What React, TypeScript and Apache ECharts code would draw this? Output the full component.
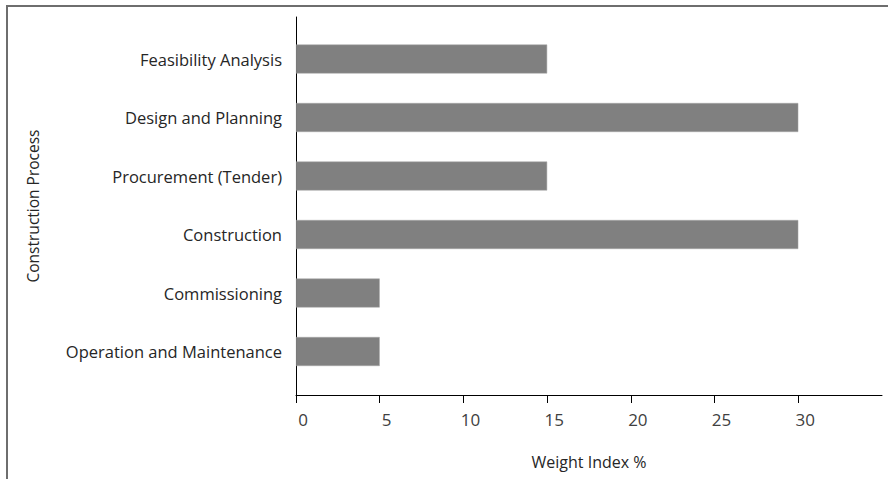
import React, { useEffect, useRef } from "react";
import * as echarts from "echarts";

const categories = [
  "Feasibility Analysis",
  "Design and Planning",
  "Procurement (Tender)",
  "Construction",
  "Commissioning",
  "Operation and Maintenance",
];
const weights = [15, 30, 15, 30, 5, 5];
const xTicks = { min: 0, max: 35, interval: 5 };
const xName = "Weight Index %";
const yName = "Construction Process";

export default function App() {
  const ref = useRef<HTMLDivElement>(null);
  useEffect(() => {
    if (!ref.current) return;
    const chart = echarts.init(ref.current, undefined, { renderer: "svg" });
    const font = "Open Sans";
    chart.setOption({
      animation: false,
      backgroundColor: "#ffffff",
      graphic: [
        {
          type: "rect",
          shape: { x: 7, y: 6, width: 900, height: 500 },
          style: { fill: "none", stroke: "#6e6e6e", lineWidth: 2 },
          silent: true,
        },
      ],
      grid: [
        { left: 296, right: 6, top: 17, bottom: 84 },
        { left: 296, right: 6, top: 29.75, bottom: 98.25 },
      ],
      xAxis: [
        {
          gridIndex: 0,
          type: "value",
          min: xTicks.min,
          max: xTicks.max,
          interval: xTicks.interval,
          axisLine: { show: true, lineStyle: { color: "#000", width: 1 } },
          axisTick: { show: true, length: 8, lineStyle: { color: "#000" } },
          splitLine: { show: false },
          axisLabel: {
            show: true,
            showMaxLabel: false,
            fontFamily: font,
            fontSize: 17,
            color: "#404040",
            margin: 16,
            padding: [0, 0, 0, 14],
          },
          name: xName,
          nameLocation: "middle",
          nameGap: 59,
          nameTextStyle: { fontFamily: font, fontSize: 16, color: "#262626" },
        },
        {
          gridIndex: 1,
          type: "value",
          min: xTicks.min,
          max: xTicks.max,
          show: false,
        },
      ],
      yAxis: [
        {
          gridIndex: 0,
          type: "value",
          axisLine: { show: true, onZero: false, lineStyle: { color: "#000", width: 1 } },
          axisTick: { show: false },
          axisLabel: { show: false },
          splitLine: { show: false },
          name: yName,
          nameLocation: "middle",
          nameGap: 255,
          nameTextStyle: { fontFamily: font, fontSize: 15.5, color: "#262626" },
        },
        {
          gridIndex: 1,
          type: "category",
          inverse: true,
          data: categories,
          axisLine: { show: false },
          axisTick: { show: false },
          splitLine: { show: false },
          axisLabel: {
            fontFamily: font,
            fontSize: 16.5,
            color: "#262626",
            margin: 14,
          },
        },
      ],
      series: [
        {
          type: "bar",
          xAxisIndex: 1,
          yAxisIndex: 1,
          data: weights,
          barWidth: 29,
          itemStyle: { color: "#808080", borderColor: "#a6a6a6", borderWidth: 0.5 },
        },
      ],
    });
    return () => chart.dispose();
  }, []);
  return (
    <div
      ref={ref}
      style={{ position: "absolute", left: 0, top: 0, width: 888, height: 479 }}
    />
  );
}
